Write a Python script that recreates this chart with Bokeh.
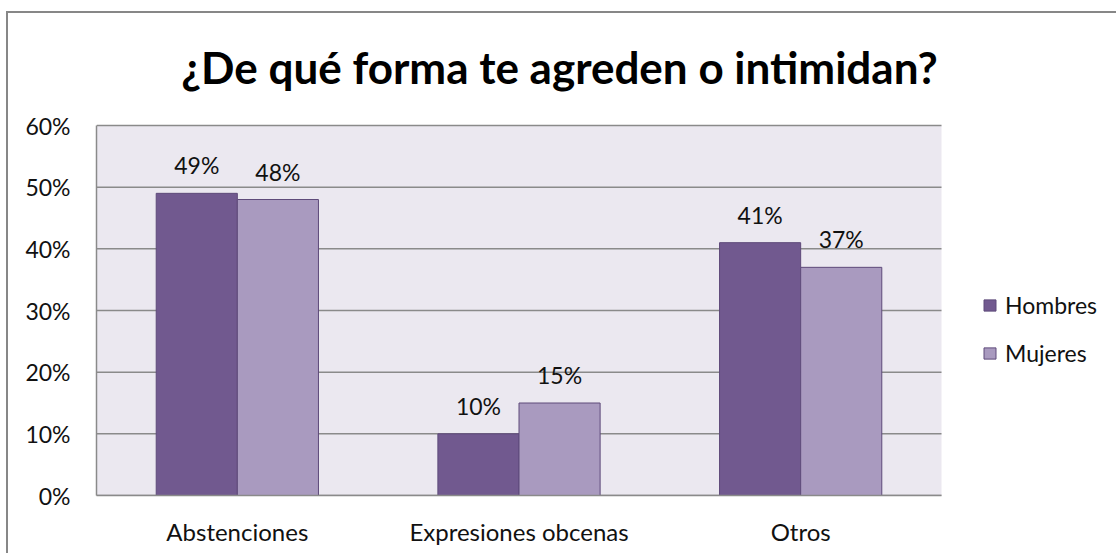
from bokeh.plotting import figure
from bokeh.models import (ColumnDataSource, NumeralTickFormatter, Label, Legend, LegendItem,
                          FixedTicker, Range1d, BoxAnnotation)
from bokeh.core.properties import value
from bokeh.embed import file_html
from bokeh.resources import INLINE

categories = ["Abstenciones", "Expresiones obcenas", "Otros"]
hombres = [0.49, 0.10, 0.41]
mujeres = [0.48, 0.15, 0.37]
series_names = ["Hombres", "Mujeres"]
y_ticks = [0, 0.1, 0.2, 0.3, 0.4, 0.5, 0.6]
title_text = "¿De qué forma te agreden o intimidan?"

FONT = "Lato"
c_h = "#71598F"
c_m = "#A99ABF"
edge = "#5E4A7A"
grid_c = "#8A8A8A"

n = len(categories)
idx = [i + 0.5 for i in range(n)]
bw = 0.288
src = ColumnDataSource(dict(
    xh=[i - bw/2 for i in idx], xm=[i + bw/2 for i in idx],
    h=hombres, m=mujeres,
    hl=[f"{round(v*100)}%" for v in hombres],
    ml=[f"{round(v*100)}%" for v in mujeres],
))

W, H = 1110, 542
ML, MR, MT, MB = 88, 2, 0, 60
frame_w = W - ML - MR
frame_h = H - MT - MB
plot_w, plot_h = 845, 370  # pixel size of the value area
ymax = y_ticks[-1]

p = figure(x_range=Range1d(0, n * frame_w / plot_w), y_range=Range1d(0, ymax * frame_h / plot_h),
           width=W, height=H, output_backend="svg", toolbar_location=None,
           min_border_left=ML, min_border_right=MR, min_border_top=MT, min_border_bottom=MB)
p.styles = {"margin-top": "11px", "margin-left": "6px",
            "border-left": "2px solid #878787", "border-top": "2px solid #878787"}
p.background_fill_color = "white"
p.border_fill_color = "white"
p.outline_line_color = None
p.xgrid.grid_line_color = None
p.ygrid.grid_line_color = None

p.add_layout(BoxAnnotation(left=0, right=n, top=ymax, fill_color="#EBE8F0", fill_alpha=1,
                           line_color=None, level="image"))
p.segment(x0=[0] * len(y_ticks), x1=[n] * len(y_ticks), y0=y_ticks, y1=y_ticks,
          line_color=grid_c, line_width=1.5)

rh = p.vbar(x="xh", top="h", width=bw, source=src, fill_color=c_h, line_color=edge, line_width=1)
rm = p.vbar(x="xm", top="m", width=bw, source=src, fill_color=c_m, line_color=edge, line_width=1)

for xc, yc, tc in (("xh", "h", "hl"), ("xm", "m", "ml")):
    p.text(x=xc, y=yc, text=tc, source=src, text_align="center", text_baseline="alphabetic",
           y_offset=-28, text_font=value(FONT), text_font_size="23px", text_color="#111111")

p.yaxis.ticker = FixedTicker(ticks=y_ticks)
p.yaxis.formatter = NumeralTickFormatter(format="0%")
p.yaxis.bounds = (0, ymax)
p.xaxis.ticker = FixedTicker(ticks=idx)
p.xaxis.major_label_overrides = {x: c for x, c in zip(idx, categories)}
p.xaxis.bounds = (0, n)

for ax in (p.xaxis, p.yaxis):
    ax.axis_line_color = grid_c
    ax.axis_line_width = 1.5
    ax.major_tick_line_color = None
    ax.minor_tick_line_color = None
    ax.major_label_text_font = FONT
    ax.major_label_text_font_size = "23px"
    ax.major_label_text_color = "#111111"
p.xaxis.major_label_text_font_size = "24px"
p.yaxis.major_label_standoff = 20
p.xaxis.major_label_standoff = 15

p.add_layout(Label(x=463, y=429, x_units="screen", y_units="screen", text=title_text,
                   text_align="center", text_baseline="alphabetic", text_font=FONT,
                   text_font_style="bold", text_font_size="44px", text_color="#000000"))

legend = Legend(items=[LegendItem(label=series_names[0], renderers=[rh]),
                       LegendItem(label=series_names[1], renderers=[rm])],
                location=(886, 128), border_line_color=None, background_fill_alpha=0,
                label_text_font=FONT, label_text_font_size="23px", label_text_color="#111111",
                glyph_width=15, glyph_height=14, label_height=24, spacing=20,
                padding=0, margin=0, label_standoff=8)
p.add_layout(legend, "center")

open("out.html", "w").write(file_html(p, INLINE))
